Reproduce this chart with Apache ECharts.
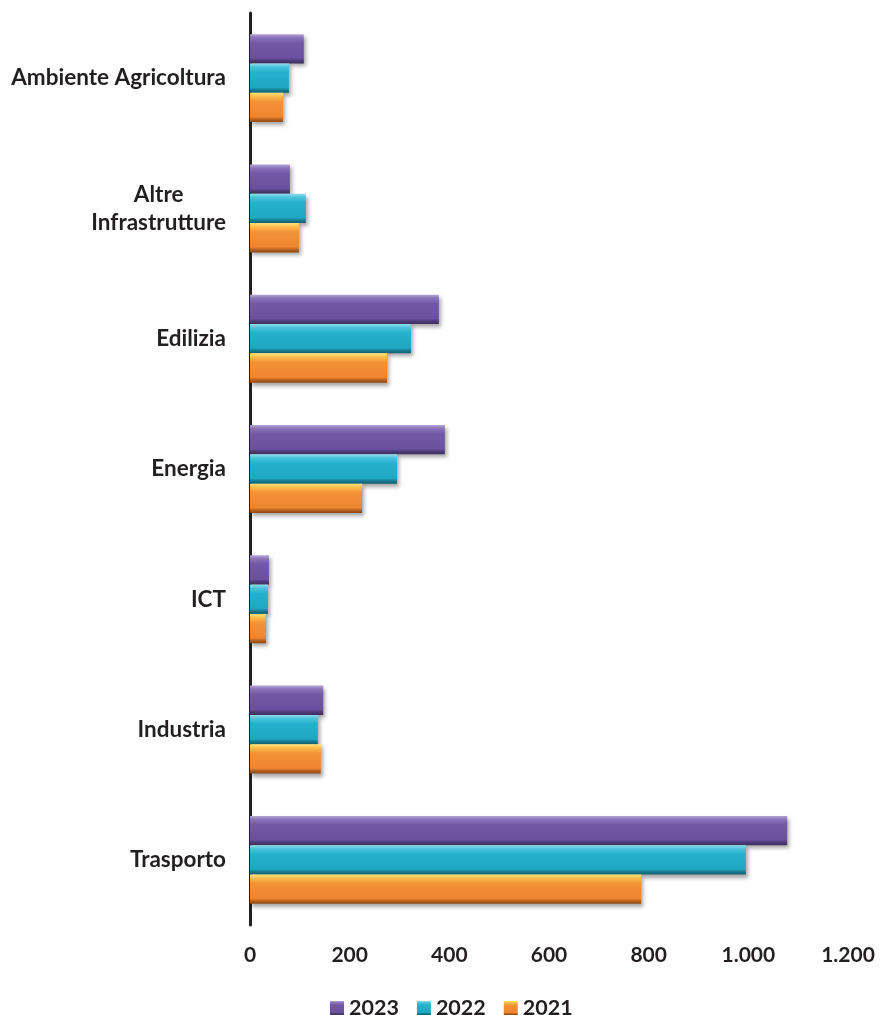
<!DOCTYPE html>
<html>
<head>
<meta charset="utf-8">
<script src="https://cdn.jsdelivr.net/npm/echarts@6/dist/echarts.min.js"></script>
<style>
html,body{margin:0;padding:0;background:#fff;}
#chart{width:880px;height:1015px;}
</style>
</head>
<body>
<div id="chart"></div>
<script>
// Categories from bottom to top
var categories = ['Trasporto', 'Industria', 'ICT', 'Energia', 'Edilizia', 'Altre\nInfrastrutture', 'Ambiente Agricoltura'];
var years = ['2023', '2022', '2021'];
var values2021 = [785, 142, 32, 225, 275, 98, 66];
var values2022 = [995, 136, 36, 295, 323, 112, 78];
var values2023 = [1078, 147, 38, 391, 379, 80, 108];
var xTicks = [0, 200, 400, 600, 800, 1000, 1200];

function grad(stops) {
  return new echarts.graphic.LinearGradient(0, 0, 0, 1, stops.map(function (s) { return { offset: s[0], color: s[1] }; }));
}
var styles = {
  '2023': grad([[0, '#b4a4d6'], [0.12, '#8a73bb'], [0.3, '#7358a8'], [0.82, '#6a509f'], [0.9, '#4e3b78'], [1, '#3e2f60']]),
  '2022': grad([[0, '#8fdcec'], [0.12, '#4cc3dc'], [0.3, '#25b1cd'], [0.82, '#1fa7c2'], [0.9, '#187d92'], [1, '#135f70']]),
  '2021': grad([[0, '#ffe27a'], [0.12, '#fbbf4e'], [0.3, '#f39236'], [0.82, '#ee8530'], [0.9, '#b9621f'], [1, '#8a4916']])
};
var dataByYear = { '2021': values2021, '2022': values2022, '2023': values2023 };

function fmt(v) {
  return String(v).replace(/\B(?=(\d{3})+(?!\d))/g, '.');
}

var font = 'Lato';
var txt = '#231f20';

var series = years.map(function (y) {
  return {
    name: y,
    type: 'bar',
    data: dataByYear[y],
    barGap: '0%',
    barCategoryGap: '32.5%',
    itemStyle: {
      color: styles[y],
      shadowColor: 'rgba(0,0,0,0.35)',
      shadowBlur: 4,
      shadowOffsetX: 2,
      shadowOffsetY: 3
    }
  };
});

var chart = echarts.init(document.getElementById('chart'), null, { renderer: 'canvas' });
chart.setOption({
  animation: false,
  backgroundColor: '#ffffff',
  grid: { left: 250, right: 32, top: 13, bottom: 90, containLabel: false },
  legend: {
    data: years,
    top: 992,
    left: 325,
    itemWidth: 14,
    itemHeight: 14,
    itemGap: 18,
    icon: 'rect',
    textStyle: { fontFamily: font, fontWeight: 'bold', fontSize: 21.5, color: txt }
  },
  xAxis: {
    type: 'value',
    min: xTicks[0],
    max: xTicks[xTicks.length - 1],
    interval: xTicks[1] - xTicks[0],
    axisLine: { show: false },
    axisTick: { show: false },
    splitLine: { show: false },
    axisLabel: {
      margin: 20,
      fontFamily: font,
      fontWeight: 'bold',
      fontSize: 21,
      color: txt,
      formatter: function (v) { return fmt(v); }
    }
  },
  yAxis: {
    type: 'category',
    data: categories,
    axisLine: { show: true, lineStyle: { color: txt, width: 3 } },
    axisTick: { show: false },
    axisLabel: {
      margin: 24,
      fontFamily: font,
      fontWeight: 'bold',
      fontSize: 22.5,
      color: txt,
      lineHeight: 28,
      formatter: function (v) {
        return v.split('\n').map(function (s) { return '{c|' + s + '}'; }).join('\n');
      },
      rich: {
        c: { align: 'center', fontFamily: font, fontWeight: 'bold', fontSize: 22.5, color: txt, lineHeight: 28 }
      }
    }
  },
  series: series
});
</script>
</body>
</html>
